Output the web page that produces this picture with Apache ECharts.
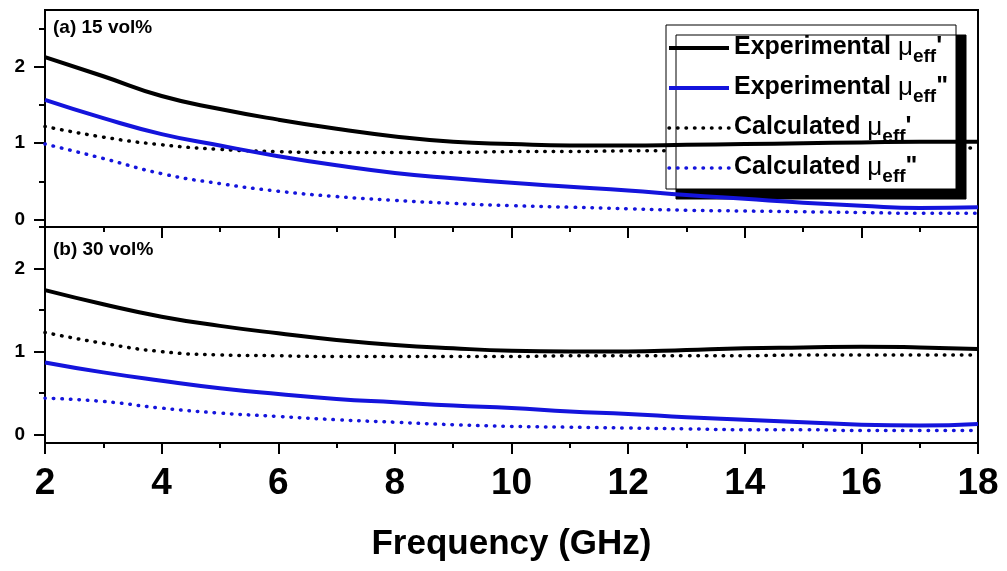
<!DOCTYPE html>
<html>
<head>
<meta charset="utf-8">
<script src="https://cdn.jsdelivr.net/npm/echarts@6/dist/echarts.min.js"></script>
<style>
  html, body { margin: 0; padding: 0; background: #fff; }
  #chart { width: 1007px; height: 571px; }
</style>
</head>
<body>
<div id="chart"></div>
<script>
// frequency points (GHz)
var freq = [2, 3, 4, 5, 6, 7, 8, 9, 10, 11, 12, 13, 14, 15, 16, 17, 18];

// (a) 15 vol%
var expReA = [2.13, 1.88, 1.62, 1.45, 1.31, 1.19, 1.09, 1.02, 0.99, 0.97, 0.97, 0.98, 0.99, 1.0, 1.01, 1.02, 1.02];
var expImA = [1.57, 1.33, 1.12, 0.97, 0.83, 0.71, 0.61, 0.54, 0.48, 0.43, 0.38, 0.32, 0.27, 0.22, 0.18, 0.15, 0.16];
var calReA = [1.22, 1.08, 0.98, 0.92, 0.89, 0.88, 0.88, 0.88, 0.89, 0.89, 0.9, 0.9, 0.91, 0.92, 0.93, 0.93, 0.94];
var calImA = [0.99, 0.8, 0.6, 0.47, 0.37, 0.3, 0.25, 0.21, 0.18, 0.16, 0.14, 0.12, 0.11, 0.1, 0.09, 0.08, 0.08];

// (b) 30 vol%
var expReB = [1.74, 1.57, 1.42, 1.31, 1.22, 1.14, 1.08, 1.04, 1.01, 1.0, 1.0, 1.02, 1.04, 1.05, 1.06, 1.05, 1.03];
var expImB = [0.87, 0.75, 0.65, 0.56, 0.49, 0.43, 0.39, 0.35, 0.32, 0.28, 0.25, 0.21, 0.18, 0.15, 0.12, 0.11, 0.13];
var calReB = [1.23, 1.1, 1.0, 0.96, 0.95, 0.94, 0.94, 0.94, 0.94, 0.95, 0.95, 0.95, 0.95, 0.96, 0.96, 0.96, 0.96];
var calImB = [0.44, 0.4, 0.32, 0.26, 0.22, 0.18, 0.15, 0.12, 0.1, 0.09, 0.08, 0.07, 0.06, 0.06, 0.05, 0.05, 0.05];

var names = ["Experimental μeff'", 'Experimental μeff"', "Calculated μeff'", 'Calculated μeff"'];
var panelTitles = ['(a) 15 vol%', '(b) 30 vol%'];
var yMajor = [0, 1, 2];
var yMinor = [0.5, 1.5, 2.5];

var BLUE = '#1414dc';
var FONT = "'Liberation Sans', Arial, sans-serif";
var SOLID = { width: 4 };
var DOTS = { width: 3.5, type: [0.5, 8], cap: 'round' };

function pairs(arr) {
  return freq.map(function (f, i) { return [f, arr[i]]; });
}

function line(name, arr, idx, color, dotted) {
  return {
    name: name,
    type: 'line',
    xAxisIndex: idx,
    yAxisIndex: idx * 2,
    smooth: true,
    symbol: 'none',
    z: dotted ? 3 : 4,
    lineStyle: Object.assign({ color: color }, dotted ? DOTS : SOLID),
    itemStyle: { color: color },
    data: pairs(arr)
  };
}

function xAxis(idx, labels) {
  return {
    type: 'value', gridIndex: idx, min: 2, max: 18, interval: 2,
    axisLine: { show: true, onZero: false, lineStyle: { color: '#000', width: 2 } },
    axisTick: { show: true, length: 11, lineStyle: { color: '#000', width: 2 } },
    minorTick: { show: true, splitNumber: 2, length: 5, lineStyle: { color: '#000', width: 2 } },
    splitLine: { show: false },
    axisLabel: {
      show: labels, margin: 22, color: '#000', fontFamily: FONT,
      fontWeight: 'bold', fontSize: 37
    },
    name: labels ? 'Frequency (GHz)' : '',
    nameLocation: 'middle', nameGap: 84,
    nameTextStyle: { color: '#000', fontFamily: FONT, fontWeight: 'bold', fontSize: 35 }
  };
}

function yAxes(idx, min, max) {
  return [{
    type: 'value', gridIndex: idx, min: min, max: max,
    axisLine: { show: true, onZero: false, lineStyle: { color: '#000', width: 2 } },
    axisTick: { show: true, length: 11, customValues: yMajor, lineStyle: { color: '#000', width: 2 } },
    splitLine: { show: false },
    axisLabel: {
      customValues: yMajor, margin: 20, color: '#000',
      fontFamily: FONT, fontWeight: 'bold', fontSize: 19
    }
  }, {
    type: 'value', gridIndex: idx, min: min, max: max, position: 'left',
    axisLine: { show: false },
    axisTick: { show: true, length: 6, customValues: yMinor, lineStyle: { color: '#000', width: 2 } },
    splitLine: { show: false },
    axisLabel: { show: false }
  }];
}

var option = {
  backgroundColor: '#fff',
  animation: false,
  title: [
    { text: panelTitles[0], left: 53, top: 18,
      textStyle: { fontFamily: FONT, fontWeight: 'bold', fontSize: 19, color: '#000' }, padding: 0 },
    { text: panelTitles[1], left: 53, top: 240,
      textStyle: { fontFamily: FONT, fontWeight: 'bold', fontSize: 19, color: '#000' }, padding: 0 }
  ],
  grid: [
    { left: 45, right: 29, top: 10, height: 217, show: true, borderColor: '#000', borderWidth: 2,
      outerBoundsMode: 'none' },
    { left: 45, right: 29, top: 227, height: 216, show: true, borderColor: '#000', borderWidth: 2,
      outerBoundsMode: 'none' }
  ],
  legend: {
    data: [
      { name: names[0], lineStyle: SOLID },
      { name: names[1], lineStyle: SOLID },
      { name: names[2], lineStyle: DOTS },
      { name: names[3], lineStyle: DOTS }
    ],
    orient: 'vertical',
    left: 666, top: 25,
    itemWidth: 60, itemHeight: 26, itemGap: 9, itemTextGap: 7,
    padding: [10, 8, 3, 1],
    selectedMode: false,
    backgroundColor: '#fff',
    borderColor: '#000', borderWidth: 1,
    shadowColor: '#000', shadowBlur: 0, shadowOffsetX: 10, shadowOffsetY: 10,
    itemStyle: { opacity: 0 },
    formatter: function (name) {
      var p = name.split('μeff');
      return '{t|' + p[0] + '}{m|μ}{s|eff}{t|' + p[1] + '}';
    },
    textStyle: {
      color: '#000',
      rich: {
        t: { fontFamily: FONT, fontWeight: 'bold', fontSize: 25, lineHeight: 26, color: '#000',
             verticalAlign: 'top' },
        m: { fontFamily: FONT, fontSize: 26, lineHeight: 26, color: '#000',
             verticalAlign: 'top' },
        s: { fontFamily: FONT, fontWeight: 'bold', fontSize: 19, lineHeight: 19, color: '#000',
             verticalAlign: 'top', padding: [12, 0, 0, 0] }
      }
    }
  },
  xAxis: [xAxis(0, false), xAxis(1, true)],
  yAxis: yAxes(0, -0.1, 2.75).concat(yAxes(1, -0.1, 2.5)),
  series: [
    line(names[0], expReA, 0, '#000', false),
    line(names[1], expImA, 0, BLUE, false),
    line(names[2], calReA, 0, '#000', true),
    line(names[3], calImA, 0, BLUE, true),
    line(names[0], expReB, 1, '#000', false),
    line(names[1], expImB, 1, BLUE, false),
    line(names[2], calReB, 1, '#000', true),
    line(names[3], calImB, 1, BLUE, true)
  ]
};

var myChart = echarts.init(document.getElementById('chart'));
myChart.setOption(option);
</script>
</body>
</html>
